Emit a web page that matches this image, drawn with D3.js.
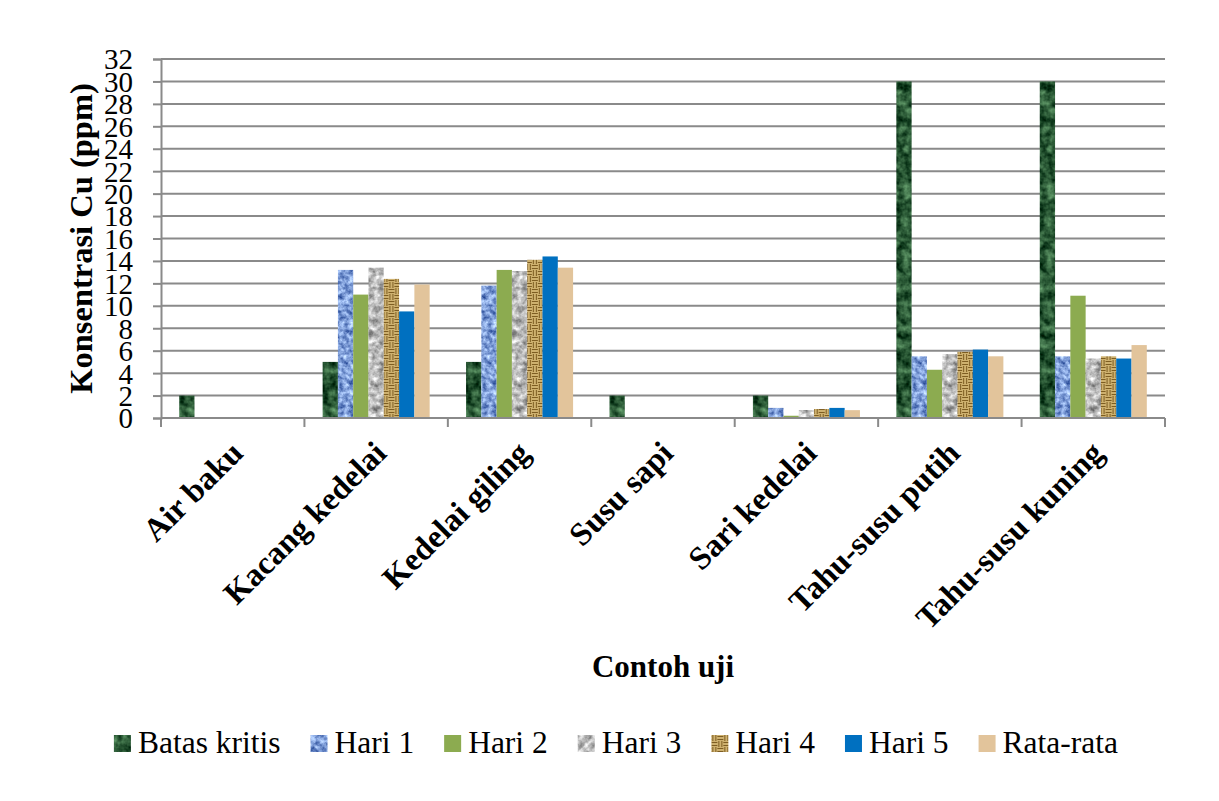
<!DOCTYPE html>
<html>
<head>
<meta charset="utf-8">
<script src="https://cdn.jsdelivr.net/npm/d3@7"></script>
<style>
  body { margin: 0; background: #fff; }
  svg { display: block; font-family: "Liberation Serif", "Times New Roman", serif; }
</style>
</head>
<body>
<svg id="chart" width="1219" height="801"></svg>
<script>
const categories = ['Air baku', 'Kacang kedelai', 'Kedelai giling', 'Susu sapi', 'Sari kedelai', 'Tahu-susu putih', 'Tahu-susu kuning'];
const seriesNames = ['Batas kritis', 'Hari 1', 'Hari 2', 'Hari 3', 'Hari 4', 'Hari 5', 'Rata-rata'];
const batasKritis = [2, 5, 5, 2, 2, 30, 30];
const hari1 = [0, 13.2, 11.8, 0, 0.9, 5.5, 5.5];
const hari2 = [0, 11.0, 13.2, 0, 0.2, 4.3, 10.9];
const hari3 = [0, 13.4, 13.1, 0, 0.7, 5.7, 5.3];
const hari4 = [0, 12.4, 14.1, 0, 0.8, 5.9, 5.5];
const hari5 = [0, 9.5, 14.4, 0, 0.9, 6.1, 5.3];
const rataRata = [0, 11.9, 13.4, 0, 0.7, 5.5, 6.5];
const yTicks = [0, 2, 4, 6, 8, 10, 12, 14, 16, 18, 20, 22, 24, 26, 28, 30, 32];
const yTitle = 'Konsentrasi Cu (ppm)';
const xTitle = 'Contoh uji';

const seriesValues = [batasKritis, hari1, hari2, hari3, hari4, hari5, rataRata];

const svg = d3.select('#chart');
const defs = svg.append('defs');
const margin = { top: 59, right: 54, bottom: 383, left: 161 };
const W = 1219, H = 801;

// textures (marble-ish via turbulence, clipped to the shape)
function texture (id, c1, c2, freq, k, off, seed) {
  let a = d3.rgb(c1), b = d3.rgb(c2);
  let row = (ca, cb) => {
    let d = (cb - ca) / 255;
    return [d * k, 0, 0, 0, ca / 255 + d * off].join(' ');
  };
  let f = defs.append('filter').attr('id', id)
    .attr('x', 0).attr('y', 0).attr('width', 1).attr('height', 1)
    .attr('color-interpolation-filters', 'sRGB');
  f.append('feTurbulence').attr('type', 'fractalNoise').attr('baseFrequency', freq)
    .attr('numOctaves', 3).attr('seed', seed).attr('result', 'n');
  f.append('feColorMatrix').attr('in', 'n').attr('type', 'matrix')
    .attr('values', [row(a.r, b.r), row(a.g, b.g), row(a.b, b.b), '0 0 0 0 1'].join(' '))
    .attr('result', 'c');
  f.append('feComposite').attr('in', 'c').attr('in2', 'SourceAlpha').attr('operator', 'in');
}
texture('tGreen', '#0c3519', '#4f8458', 0.12, 2.6, -0.85, 3);
texture('tBlue', '#2f519c', '#8fade4', 0.2, 2.6, -0.45, 7);
texture('tGray', '#767676', '#d6d6d6', 0.16, 2.3, -0.45, 11);

// woven pattern for Hari 4
let weave = defs.append('pattern').attr('id', 'pWeave').attr('patternUnits', 'userSpaceOnUse')
  .attr('width', 12).attr('height', 12);
weave.append('rect').attr('width', 12).attr('height', 12).attr('fill', '#dcc07c');
[[0, 0, 'h'], [6, 6, 'h'], [6, 0, 'v'], [0, 6, 'v']].forEach(([ox, oy, dir]) => {
  [1.5, 4.5].forEach(t => {
    if (dir === 'h') weave.append('line').attr('x1', ox).attr('x2', ox + 6).attr('y1', oy + t).attr('y2', oy + t)
      .attr('stroke', '#7d5d22').attr('stroke-width', 1.3);
    else weave.append('line').attr('y1', oy).attr('y2', oy + 6).attr('x1', ox + t).attr('x2', ox + t)
      .attr('stroke', '#7d5d22').attr('stroke-width', 1.3);
  });
});

const styles = {
  'Batas kritis': { fill: '#1d4a2a', filter: 'url(#tGreen)' },
  'Hari 1': { fill: '#8eaadb', filter: 'url(#tBlue)' },
  'Hari 2': { fill: '#8cab50', filter: null },
  'Hari 3': { fill: '#bdbdbd', filter: 'url(#tGray)' },
  'Hari 4': { fill: 'url(#pWeave)', filter: null },
  'Hari 5': { fill: '#0070c0', filter: null },
  'Rata-rata': { fill: '#e2c49b', filter: null }
};

const x0 = d3.scaleBand().domain(categories).range([margin.left, W - margin.right]).paddingInner(0);
const x1 = d3.scaleBand().domain(seriesNames).range([0, x0.bandwidth()]).paddingOuter(1.19);
const y = d3.scaleLinear().domain([0, 32]).range([H - margin.bottom, margin.top]);

const gridColor = '#8a8a8a';

// gridlines
svg.append('g').selectAll('line').data(yTicks).join('line')
  .attr('x1', margin.left).attr('x2', W - margin.right)
  .attr('y1', d => y(d)).attr('y2', d => y(d))
  .attr('stroke', gridColor).attr('stroke-width', 2);

// y axis
let yAxis = svg.append('g').attr('transform', `translate(${margin.left},0)`)
  .call(d3.axisLeft(y).tickValues(yTicks).tickSize(8).tickPadding(20));
yAxis.attr('font-family', null);
yAxis.select('.domain').attr('stroke', gridColor).attr('stroke-width', 2);
yAxis.selectAll('.tick line').attr('stroke', gridColor).attr('stroke-width', 2);
yAxis.selectAll('.tick text').attr('font-size', 29)
  .attr('fill', '#000').attr('dy', '0.34em');

// bars
let rows = categories.map((c, i) => ({ cat: c, vals: seriesNames.map((s, j) => ({ s, v: seriesValues[j][i] })) }));
let groups = svg.append('g').selectAll('g').data(rows).join('g')
  .attr('transform', d => `translate(${x0(d.cat)},0)`);
groups.selectAll('rect').data(d => d.vals.filter(o => o.v > 0)).join('rect')
  .attr('x', d => x1(d.s)).attr('width', x1.bandwidth())
  .attr('y', d => y(d.v)).attr('height', d => y(0) - y(d.v))
  .attr('fill', d => styles[d.s].fill)
  .attr('filter', d => styles[d.s].filter);

// x axis
let xg = svg.append('g');
xg.append('line').attr('x1', margin.left).attr('x2', W - margin.right)
  .attr('y1', y(0)).attr('y2', y(0)).attr('stroke', gridColor).attr('stroke-width', 2);
let bounds = categories.map(c => x0(c)).concat([x0.range()[1]]);
xg.selectAll('line.tick').data(bounds).join('line').attr('class', 'tick')
  .attr('x1', d => d).attr('x2', d => d).attr('y1', y(0)).attr('y2', y(0) + 9)
  .attr('stroke', gridColor).attr('stroke-width', 2);
xg.selectAll('text').data(categories).join('text')
  .attr('transform', d => `translate(${x0(d) + x0.bandwidth() / 2 + 12},${y(0) + 37}) rotate(-45)`)
  .attr('text-anchor', 'end').attr('font-size', 32.5).attr('font-weight', 'bold').text(d => d);

// titles
svg.append('text').attr('transform', `translate(92,${(y(0) + y(32)) / 2}) rotate(-90)`)
  .attr('text-anchor', 'middle').attr('font-size', 32.5).attr('font-weight', 'bold').text(yTitle);
svg.append('text').attr('x', (margin.left + W - margin.right) / 2).attr('y', 677)
  .attr('text-anchor', 'middle').attr('font-size', 31).attr('font-weight', 'bold').text(xTitle);

// legend
let lg = svg.append('g');
let items = lg.selectAll('g').data(seriesNames).join('g');
items.append('rect').attr('width', 17).attr('height', 17).attr('y', -18)
  .attr('fill', d => styles[d].fill).attr('filter', d => styles[d].filter);
items.append('text').attr('x', 24).attr('font-size', 31.5).text(d => d);
let cx = 0;
items.each(function () {
  let w = 24 + d3.select(this).select('text').node().getComputedTextLength();
  d3.select(this).attr('transform', `translate(${cx},0)`);
  cx += w + 30;
});
let total = cx - 30;
lg.attr('transform', `translate(${1118 - total},753)`);
</script>
</body>
</html>
